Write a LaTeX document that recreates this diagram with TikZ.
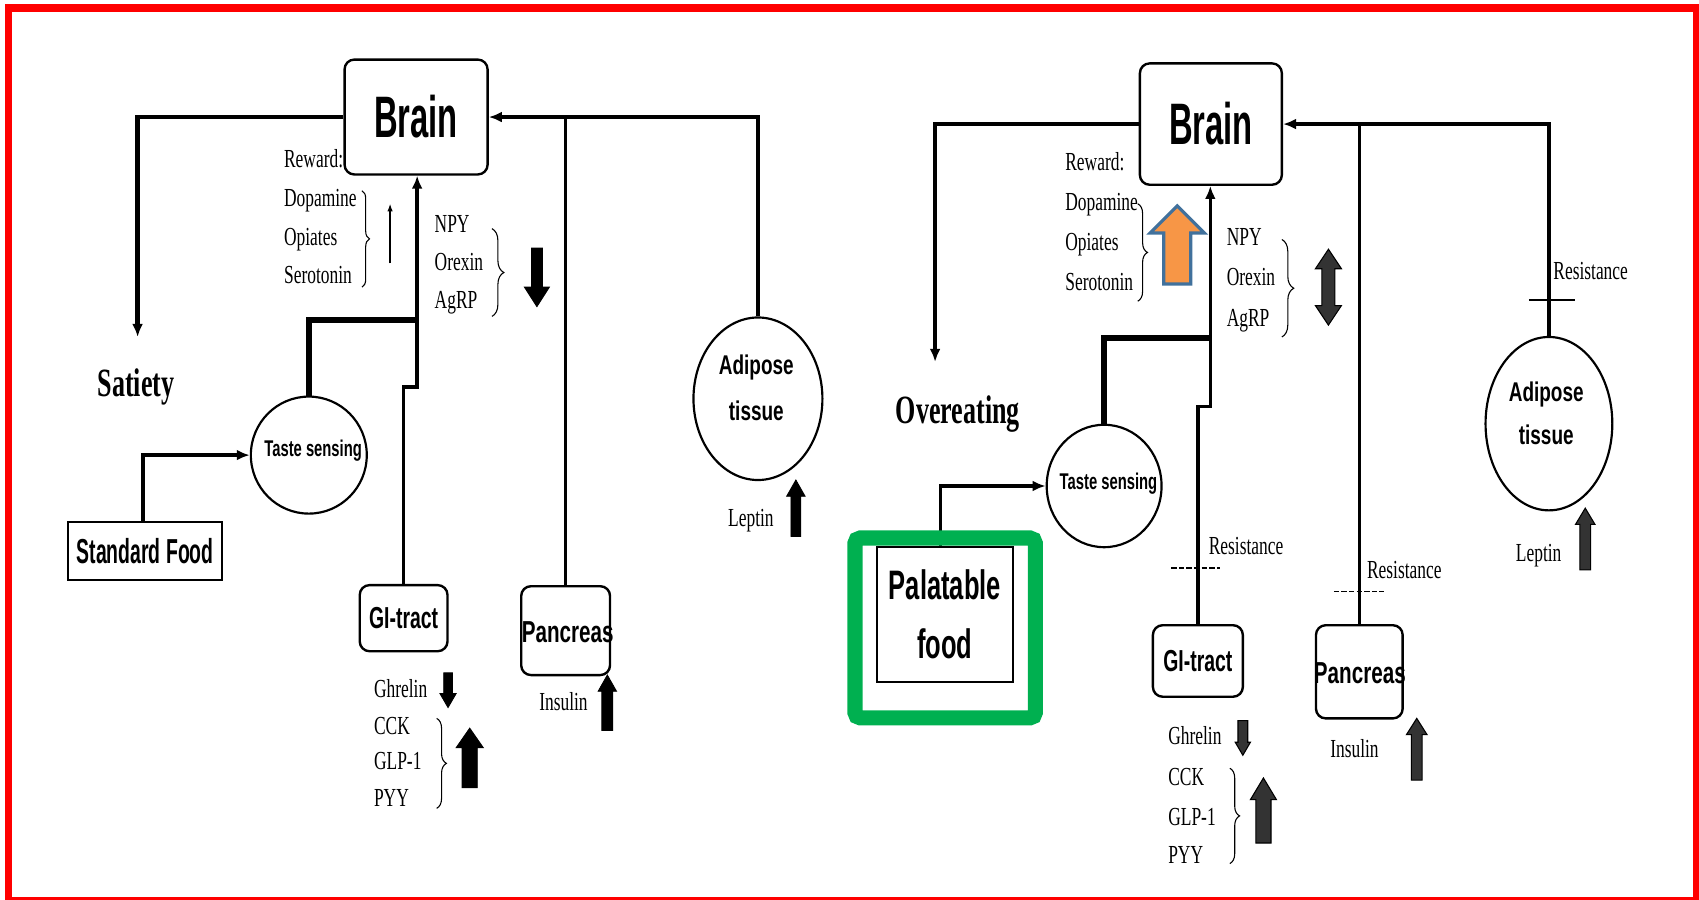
\documentclass[tikz,border=0pt]{standalone}
\usepackage{fontspec}
\setmainfont{Liberation Serif}
\newfontfamily\arialf{Liberation Sans}
\usetikzlibrary{arrows.meta,decorations.pathreplacing,shapes.geometric}
\definecolor{framered}{HTML}{FF0000}
\definecolor{grn}{HTML}{00B050}
\definecolor{orng}{HTML}{F79646}
\definecolor{blu}{HTML}{41719C}
\newcommand\sq[2]{\scalebox{#1}[1]{#2}}
% block arrow: [style] x, tip y, tail y, head half width, shaft half width, signed head length
\newcommand\blkarrow[7][blk]{\draw[#1] (#2,#3) -- ({#2+#5},{#3+#7}) -- ({#2+#6},{#3+#7}) -- ({#2+#6},#4) -- ({#2-#6},#4) -- ({#2-#6},{#3+#7}) -- ({#2-#5},{#3+#7}) -- cycle;}
\begin{document}
\begin{tikzpicture}[x=1pt,y=-1pt,
  conn/.style={line width=3.2pt},
  tip/.style={-{Latex[length=12pt,width=10pt]}},
  box/.style={draw, line width=2.2pt, rounded corners=9pt, inner sep=0pt},
  sqbox/.style={draw, line width=1.8pt, inner sep=0pt},
  oval/.style={draw, ellipse, line width=2pt, inner sep=0pt},
  lbl/.style={inner sep=0pt, font=\fontsize{24}{26}\selectfont, text height=16pt, text depth=5pt},
  bigl/.style={inner sep=0pt, font=\bfseries\fontsize{37}{40}\selectfont},
  sb/.style={inner sep=0pt, font=\arialf\bfseries\fontsize{#1}{#1}\selectfont},
  blk/.style={fill=black, draw=black, line width=0.8pt, line join=miter},
  hatch/.style={fill=black!80, draw=black, line width=1pt, line join=miter},
  res/.style={line width=1.4pt, dash pattern=on 5pt off 2pt},
  br/.style={line width=1pt, decorate, decoration={brace, amplitude=#1}}
]
\useasboundingbox (0,0) rectangle (1568,830);
\draw[framered, line width=7pt] (8,7.5) rectangle (1566,831);

% ================= LEFT PANEL =================
\node[box, minimum width=132pt, minimum height=106pt, sb=54] (brainL) at (384,108) {\sq{0.56}{Brain}};
\node[sqbox, minimum width=142pt, minimum height=53pt, sb=32] (stdL) at (134,508.5) {\sq{0.56}{Standard Food}};
\node[oval, minimum width=107pt, minimum height=108pt] (tasteL) at (285,420) {};
\node[sb=21] (tasteLt) at (289,416) {\sq{0.65}{Taste sensing}};
\node[box, minimum width=81pt, minimum height=61pt, sb=28] (giL) at (372.5,570.5) {\sq{0.64}{GI-tract}};
\node[box, minimum width=82pt, minimum height=82pt] (pancL) at (522,582) {};
\node[sb=28] (pancLt) at (524,583) {\sq{0.68}{Pancreas}};
\node[oval, minimum width=119pt, minimum height=150pt] (adL) at (699.5,368) {};
\node[sb=25] (adLt1) at (698,339) {\sq{0.7}{Adipose}};
\node[sb=25] (adLt2) at (698,379) {\sq{0.7}{tissue}};
\node[bigl] (sat) at (125.5,357) {\sq{0.65}{Satiety}};

\coordinate (satTip) at (127,311);
\draw[line width=4pt, tip] (brainL.west) -| (satTip);
\draw[conn, tip] (adL.north) |- (brainL.east);
\draw[conn] (pancL.north) -- (pancL.north |- brainL.east);
\coordinate (jL) at (385,295);
\draw[line width=5.5pt] (tasteL.north) |- (jL);
\coordinate (stepL) at (385,357);
\draw[conn, tip] (giL.north) |- (stepL) -- (stepL |- brainL.south);
\draw[conn, tip] ([xshift=-2pt]stdL.north) |- (tasteL.west);

\node[lbl, anchor=west] (rewL) at (262,149) {\sq{0.67}{Reward:}};
\node[lbl, anchor=west] (dopL) at (262,185) {\sq{0.67}{Dopamine}};
\node[lbl, anchor=west] (opiL) at (262,221) {\sq{0.67}{Opiates}};
\node[lbl, anchor=west] (serL) at (262,256) {\sq{0.67}{Serotonin}};
\draw[br=7pt] (334,176) -- (334,265);
\draw[line width=1.2pt, -{Latex[length=7pt,width=5pt]}] (360,243) -- (360,188);

\node[lbl, anchor=west] (npyL) at (401,209) {\sq{0.67}{NPY}};
\node[lbl, anchor=west] (orxL) at (401,244) {\sq{0.67}{Orexin}};
\node[lbl, anchor=west] (agrL) at (401,279) {\sq{0.67}{AgRP}};
\draw[br=11pt] (454,211) -- (454,292);
\blkarrow{495.5}{283}{229}{11.5}{5}{-18}

\node[lbl, anchor=west] (ghrL) at (345,638) {\sq{0.67}{Ghrelin}};
\node[lbl, anchor=west] (cckL) at (345,672) {\sq{0.67}{CCK}};
\node[lbl, anchor=west] (glpL) at (345,705) {\sq{0.67}{GLP-1}};
\node[lbl, anchor=west] (pyyL) at (345,739) {\sq{0.67}{PYY}};
\blkarrow{413.5}{653}{621}{7.5}{4}{-13}
\draw[br=9pt] (403,663) -- (403,746);
\blkarrow{433.5}{672}{727}{12.5}{7}{18}

\node[lbl] (insL) at (520,650) {\sq{0.67}{Insulin}};
\blkarrow{560.5}{623}{674}{8.5}{5}{15}
\node[lbl] (lepL) at (693,480) {\sq{0.67}{Leptin}};
\blkarrow{734.5}{443}{495}{8.5}{4.5}{15}

% ================= RIGHT PANEL =================
\node[box, minimum width=131pt, minimum height=112pt, sb=54] (brainR) at (1117.5,114.5) {\sq{0.56}{Brain}};
\node[sqbox, minimum width=126pt, minimum height=124pt, sb=38, align=center] (palat) at (872,567) {\sq{0.62}{Palatable}\\[16pt]\sq{0.62}{food}};
\node[oval, minimum width=106pt, minimum height=113pt] (tasteR) at (1019,448.5) {};
\node[sb=21] (tasteRt) at (1023,446) {\sq{0.65}{Taste sensing}};
\node[box, minimum width=83pt, minimum height=66pt, sb=28] (giR) at (1105.5,610) {\sq{0.64}{GI-tract}};
\node[box, minimum width=80pt, minimum height=86pt] (pancR) at (1254.5,620) {};
\node[sb=28] (pancRt) at (1255,621) {\sq{0.68}{Pancreas}};
\node[oval, minimum width=117pt, minimum height=160pt] (adR) at (1429.5,391) {};
\node[sb=25] (adRt1) at (1427,364) {\sq{0.7}{Adipose}};
\node[sb=25] (adRt2) at (1427,401) {\sq{0.7}{tissue}};
\node[bigl] (over) at (884,382) {\sq{0.65}{Overeating}};

\coordinate (overTip) at (863,334);
\draw[conn, tip] (brainR.west) -| (overTip);
\draw[conn, tip] (adR.north) |- (brainR.east);
\draw[conn] (pancR.north) -- (pancR.north |- brainR.east);
\coordinate (jR) at (1117,312);
\draw[line width=5.5pt] (tasteR.north) |- (jR);
\coordinate (stepR) at (1117,375);
\draw[conn, tip] (giR.north) |- (stepR) -- (stepR |- brainR.south);
\draw[conn, tip] ([xshift=-4pt]palat.north) |- (tasteR.west);

\draw[res] (1081,524) -- (1126,524);
\node[lbl] (resGI) at (1150,506) {\sq{0.67}{Resistance}};
\draw[res] (1231,546) -- (1277,546);
\node[lbl] (resPa) at (1296,528) {\sq{0.67}{Resistance}};
\draw[line width=1.3pt] (1411,277) -- (1454,277);
\node[lbl] (resAd) at (1468,252) {\sq{0.67}{Resistance}};

\node[lbl, anchor=west] (rewR) at (983,152) {\sq{0.67}{Reward:}};
\node[lbl, anchor=west] (dopR) at (983,189) {\sq{0.67}{Dopamine}};
\node[lbl, anchor=west] (opiR) at (983,226) {\sq{0.67}{Opiates}};
\node[lbl, anchor=west] (serR) at (983,263) {\sq{0.67}{Serotonin}};
\draw[br=9pt] (1050,188) -- (1050,278);
\blkarrow[fill=orng, draw=blu, line width=3pt, line join=miter]{1086.5}{190}{262}{25}{12.5}{25}

\node[lbl, anchor=west] (npyR) at (1132,221) {\sq{0.67}{NPY}};
\node[lbl, anchor=west] (orxR) at (1132,258) {\sq{0.67}{Orexin}};
\node[lbl, anchor=west] (agrR) at (1132,296) {\sq{0.67}{AgRP}};
\draw[br=11pt] (1183,221) -- (1183,311);
\draw[hatch] (1226,230) -- (1238,248) -- (1232,248) -- (1232,282) -- (1238,282) -- (1226,300) -- (1214,282) -- (1220,282) -- (1220,248) -- (1214,248) -- cycle;

\node[lbl, anchor=west] (ghrR) at (1078,682) {\sq{0.67}{Ghrelin}};
\node[lbl, anchor=west] (cckR) at (1078,719) {\sq{0.67}{CCK}};
\node[lbl, anchor=west] (glpR) at (1078,756) {\sq{0.67}{GLP-1}};
\node[lbl, anchor=west] (pyyR) at (1078,791) {\sq{0.67}{PYY}};
\blkarrow[hatch]{1147}{697}{665}{7}{4.5}{-12}
\draw[br=9pt] (1135,709) -- (1135,797);
\blkarrow[hatch]{1166}{718}{778}{12}{7}{20}

\node[lbl] (insR) at (1250,694) {\sq{0.67}{Insulin}};
\blkarrow[hatch]{1307.5}{663}{720}{9.5}{5}{15}
\node[lbl] (lepR) at (1420,513) {\sq{0.67}{Leptin}};
\blkarrow[hatch]{1463}{469}{526}{9}{5}{15}

% green highlight
\node[draw=grn, line width=14pt, rounded corners=5pt, minimum width=166.5pt, minimum height=166pt, inner sep=0pt] (hl) at (872.25,579.5) {};
\end{tikzpicture}
\end{document}
